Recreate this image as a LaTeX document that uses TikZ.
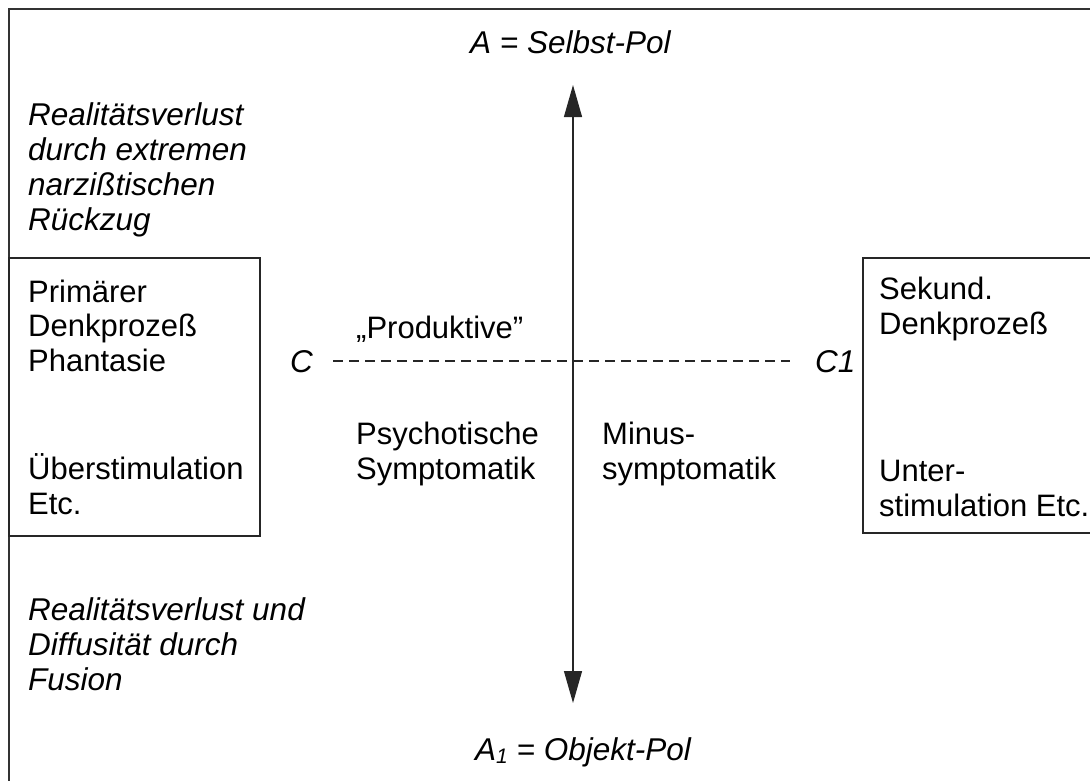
\documentclass[tikz,border=0pt]{standalone}
\usepackage{fontspec}
\setmainfont{Liberation Sans}
\usetikzlibrary{arrows.meta}
\begin{document}
\begin{tikzpicture}[x=1pt,y=-1pt,
  txt/.style={anchor=base west,inner sep=0pt,align=left,font=\fontsize{31}{34.5}\selectfont},
  itxt/.style={anchor=base west,inner sep=0pt,align=left,font=\fontsize{31.5}{35}\selectfont\itshape},
  frameline/.style={draw=black!80,line width=1.6pt},
  boxnode/.style={draw=black!85,line width=1.3pt,inner sep=0pt,fill=none},
  axis/.style={draw=black!85,line width=1.3pt,{Triangle[length=32pt,width=18pt]}-{Triangle[length=32pt,width=18pt]}},
  dashline/.style={draw=black!85,line width=1.4pt,dash pattern=on 10pt off 6pt}]
\useasboundingbox (0,0) rectangle (1090,780);
\clip (0,0) rectangle (1090,780);
% outer frame (cropped at right and bottom)
\draw[frameline] (9,820) -- (9,9) -- (1130,9);
% side boxes
\node[boxnode,minimum width=251pt,minimum height=278pt] (lbox) at (134.5,397) {};
\node[boxnode,minimum width=337pt,minimum height=275pt] (rbox) at (1031.5,395.5) {};
% pole labels
\node[itxt] (Atop) at (470,53) {A = Selbst-Pol};
\node[itxt] (Abot) at (475,760) {A\raisebox{-0.22ex}{\fontsize{21}{21}\selectfont 1} = Objekt-Pol};
% vertical axis
\coordinate (aup) at (573,85);
\coordinate (adown) at (573,703);
\draw[axis] (aup) -- (adown);
% horizontal dashed axis
\node[itxt] (C) at (290,372) {C};
\node[itxt] (C1) at (815,372) {C1};
\coordinate (cl) at (333,361);
\coordinate (cr) at (790,361);
\draw[dashline] (cl) -- (cr);
% left italic texts (anchor = baseline of last line)
\node[itxt] (rtop) at (28,230) {Realitätsverlust\\durch extremen\\narzißtischen\\Rückzug};
\node[itxt] (rbot) at (28,690) {Realitätsverlust und\\Diffusität durch\\Fusion};
% left box texts
\node[txt] (prim) at (28,371) {Primärer\\Denkprozeß\\Phantasie};
\node[txt] (ueber) at (28,514) {Überstimulation\\Etc.};
% right box texts
\node[txt] (sek) at (879,334) {Sekund.\\Denkprozeß};
\node[txt] (unter) at (879,516) {Unter-\\stimulation Etc.};
% middle texts
\node[txt] (prod) at (356,338) {„Produktive"};
\node[txt] (psy) at (356,479) {Psychotische\\Symptomatik};
\node[txt] (minus) at (602,479) {Minus-\\symptomatik};
\end{tikzpicture}
\end{document}
